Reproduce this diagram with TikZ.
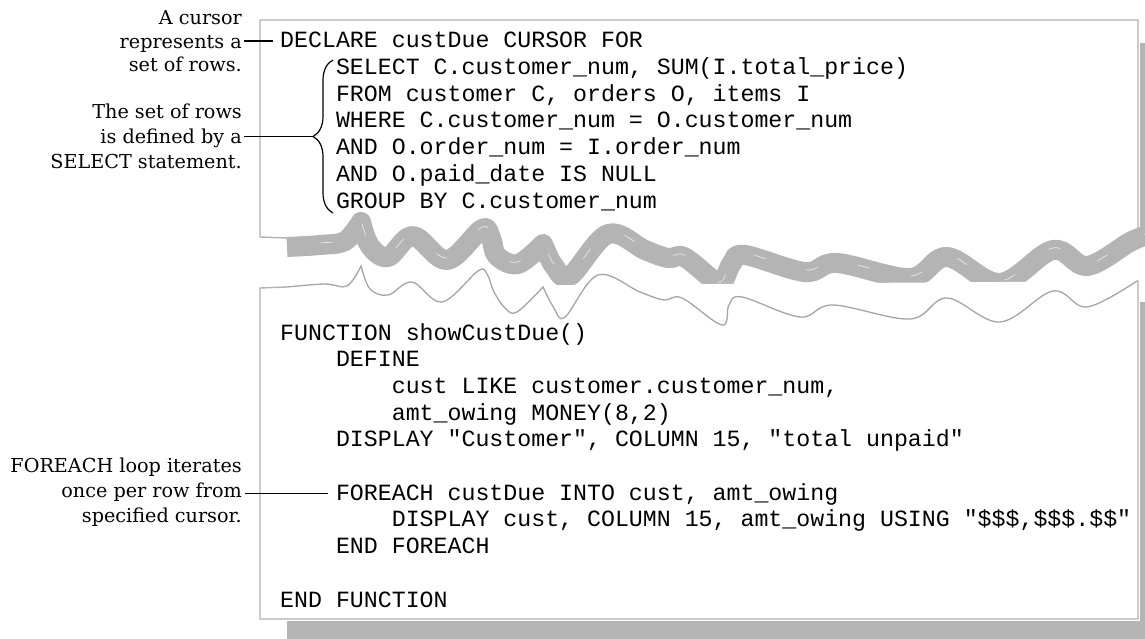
\documentclass[tikz,border=0pt]{standalone}
\usepackage{fontspec}
\newfontfamily\lblfont{DejaVu Serif}
\newfontfamily\codefont{Liberation Mono}
\usetikzlibrary{decorations.pathreplacing}

\definecolor{paneledge}{RGB}{178,178,178}
\definecolor{shadowgray}{RGB}{180,180,180}
\definecolor{tearline}{RGB}{165,165,165}

% torn bottom edge of the upper sheet (centre line of the thick band)
\newcommand\bandcurve{%
  plot[smooth,tension=0.6] coordinates {(287,247) (320,245) (345,241) (361,222)}
  -- plot[smooth,tension=0.6] coordinates {(361,222) (370,246) (388,257) (413,236)
     (447,260) (482,229) (491,238) (497,256) (518,264) (543,244)}
  -- plot[smooth,tension=0.6] coordinates {(543,244) (554,266) (570,276) (608,234)
     (645,250) (668,258) (684,257) (712,279) (722,283) (732,263) (745,255) (805,272)
     (837,263) (910,278) (947,257) (1000,283) (1053,250) (1087,266) (1130,242) (1145,236)}}

% torn top edge of the lower sheet
\newcommand\tearcurve{%
  plot[smooth,tension=0.6] coordinates {(287,287) (325,284) (347,286) (361,266)}
  -- plot[smooth,tension=0.6] coordinates {(361,266) (370,289) (388,295) (412,282)
     (442,302) (478,271) (487,274) (494,292) (505,308) (517,312) (543,287)}
  -- plot[smooth,tension=0.6] coordinates {(543,287) (554,308) (565,317) (598,275)
     (640,292) (664,300) (682,298) (722,325) (729,305) (742,297) (800,317) (833,305)
     (910,319) (947,298) (1000,322) (1053,291) (1087,307) (1137,281)}}

\tikzset{
  code/.style={font=\codefont\fontsize{23.25}{26.7}\selectfont, inner sep=0pt,
    anchor=base west, text height=13pt, text depth=0pt},
  lbl/.style={font=\lblfont\fontsize{19.2}{24}\selectfont, inner sep=0pt,
    anchor=base east, text height=13pt, text depth=0pt},
  callout/.style={black, line width=1.1pt},
  sheet/.style={draw=paneledge, line width=1.4pt, fill=white},
}

\begin{document}
\begin{tikzpicture}[x=1pt,y=-1pt]
\useasboundingbox (0,0) rectangle (1145,639);
\fill[white] (0,0) rectangle (1145,639);

% drop shadows
\fill[shadowgray] (1139.5,43) rectangle (1145,240);
\fill[shadowgray] (1139.5,302) rectangle (1145,639);
\fill[shadowgray] (287,621) rectangle (1145,639);

% upper sheet
\draw[paneledge, line width=1.4pt] (287,238) -- (260,237) -- (260,20) -- (1138,20) -- (1138,229);
\draw[shadowgray, line width=20pt, line join=round] \bandcurve;
\draw[white, opacity=0.7, line width=0.7pt, dash pattern=on 12pt off 42pt, dash phase=20pt, yshift=2pt] \bandcurve;

% lower sheet
\draw[sheet] (1138,281) -- (1138,619) -- (260,619) -- (260,288) -- (287,287);
\draw[tearline, line width=1.3pt] \tearcurve -- (1138,281);

% code of the cursor declaration
\node[code] (c1) at (280,47.5) {DECLARE custDue CURSOR FOR};
\node[code] (c2) at (335.8,74.5) {SELECT C.customer\_num, SUM(I.total\_price)};
\node[code] (c3) at (335.8,101.2) {FROM customer C, orders O, items I};
\node[code] (c4) at (335.8,127.9) {WHERE C.customer\_num = O.customer\_num};
\node[code] (c5) at (335.8,154.6) {AND O.order\_num = I.order\_num};
\node[code] (c6) at (335.8,181.3) {AND O.paid\_date IS NULL};
\node[code] (c7) at (335.8,208) {GROUP BY C.customer\_num};

% code of the function
\node[code] (f1) at (280,340) {FUNCTION showCustDue()};
\node[code] (f2) at (335.8,366.7) {DEFINE};
\node[code] (f3) at (391.6,393.4) {cust LIKE customer.customer\_num,};
\node[code] (f4) at (391.6,420.1) {amt\_owing MONEY(8,2)};
\node[code] (f5) at (335.8,446.8) {DISPLAY "Customer", COLUMN 15, "total unpaid"};
\node[code] (f6) at (335.8,500.2) {FOREACH custDue INTO cust, amt\_owing};
\node[code] (f7) at (391.6,526.9) {DISPLAY cust, COLUMN 15, amt\_owing USING "\$\$\$,\$\$\$.\$\$"};
\node[code] (f8) at (335.8,553.6) {END FOREACH};
\node[code] (f9) at (280,607) {END FUNCTION};

% brace around the SELECT statement
\draw[black, line width=1.2pt, decorate, decoration={brace, amplitude=20pt}] (333,213) -- (333,60);
\coordinate (btip) at (313,136.5);

% annotations
\node[lbl] (a1) at (242,24.5) {A cursor};
\node[lbl] (a2) at (242,48.3) {represents a};
\node[lbl] (a3) at (242,72) {set of rows.};

\node[lbl] (b1) at (242,118.3) {The set of rows};
\node[lbl] (b2) at (242,143.3) {is defined by a};
\node[lbl] (b3) at (242,168.3) {SELECT statement.};

\node[lbl] (d1) at (242,472) {FOREACH loop iterates};
\node[lbl] (d2) at (242,497.7) {once per row from};
\node[lbl] (d3) at (242,522) {specified cursor.};

\draw[callout] ([xshift=2pt]a2.east |- c1.west) -- ([xshift=-7pt]c1.west);
\draw[callout] ([xshift=2pt]b2.east |- btip) -- (btip);
\draw[callout] ([xshift=3pt]d2.east |- f6.west) -- ([xshift=-8pt]f6.west);
\end{tikzpicture}
\end{document}
